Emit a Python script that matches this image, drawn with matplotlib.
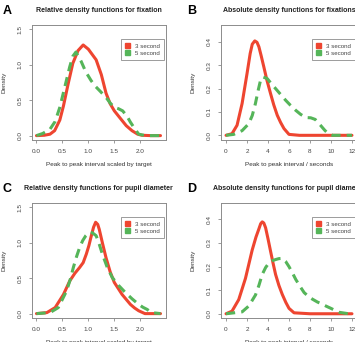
import matplotlib
matplotlib.use("Agg")
import matplotlib.pyplot as plt
from matplotlib.patches import Patch

plt.rcParams['font.family'] = ['Liberation Sans', 'DejaVu Sans']

RED = "#ee4530"
GREEN = "#55b559"
GRAY = "#8c8c8c"

# A - relative density, fixation
a_x3 = [0.0, 0.15, 0.26, 0.35, 0.45, 0.52, 0.61, 0.70, 0.80, 0.90, 1.00, 1.08, 1.15, 1.25, 1.34, 1.42, 1.50, 1.62, 1.73, 1.84, 1.95, 2.03, 2.2, 2.39]
a_y3 = [0.0, 0.005, 0.02, 0.07, 0.22, 0.42, 0.73, 1.02, 1.20, 1.28, 1.22, 1.14, 1.07, 0.86, 0.60, 0.45, 0.35, 0.24, 0.14, 0.07, 0.02, 0.005, 0.0, 0.0]
a_x5 = [0.0, 0.12, 0.26, 0.36, 0.45, 0.55, 0.64, 0.70, 0.76, 0.86, 0.95, 1.05, 1.13, 1.21, 1.34, 1.42, 1.50, 1.58, 1.66, 1.74, 1.81, 1.90, 1.97, 2.1, 2.39]
a_y5 = [0.0, 0.03, 0.09, 0.20, 0.40, 0.70, 0.97, 1.12, 1.18, 1.05, 0.90, 0.78, 0.70, 0.64, 0.54, 0.46, 0.40, 0.38, 0.35, 0.28, 0.19, 0.09, 0.02, 0.0, 0.0]

# B - absolute density, fixation
b_x3 = [0.0, 0.57, 1.05, 1.53, 2.0, 2.3, 2.5, 2.74, 2.95, 3.13, 3.35, 3.6, 3.9, 4.24, 4.55, 4.88, 5.2, 5.52, 6.0, 7.0, 9.0, 12.0]
b_y3 = [0.0, 0.007, 0.043, 0.136, 0.264, 0.35, 0.39, 0.404, 0.398, 0.379, 0.34, 0.293, 0.235, 0.179, 0.13, 0.086, 0.055, 0.029, 0.004, 0.0, 0.0, 0.0]
b_x5 = [0.0, 0.73, 1.53, 2.17, 2.5, 2.8, 3.05, 3.29, 3.5, 3.92, 4.3, 4.72, 5.2, 5.68, 6.15, 6.64, 7.1, 7.6, 8.07, 8.5, 9.0, 9.4, 9.67, 10.15, 11.0, 12.0]
b_y5 = [0.0, 0.004, 0.02, 0.05, 0.085, 0.136, 0.19, 0.236, 0.25, 0.243, 0.222, 0.2, 0.175, 0.15, 0.128, 0.107, 0.09, 0.076, 0.075, 0.068, 0.043, 0.022, 0.01, 0.0, 0.0, 0.0]

# C - relative density, pupil diameter
c_x3 = [0.0, 0.2, 0.36, 0.52, 0.64, 0.74, 0.83, 0.90, 0.96, 1.01, 1.05, 1.10, 1.14, 1.18, 1.21, 1.27, 1.34, 1.42, 1.50, 1.58, 1.65, 1.73, 1.81, 1.89, 1.97, 2.09, 2.39]
c_y3 = [0.0, 0.014, 0.085, 0.27, 0.46, 0.57, 0.65, 0.72, 0.84, 0.96, 1.08, 1.22, 1.29, 1.26, 1.19, 1.0, 0.79, 0.59, 0.44, 0.35, 0.27, 0.20, 0.13, 0.08, 0.04, 0.0, 0.0]
c_x5 = [0.0, 0.26, 0.42, 0.58, 0.65, 0.71, 0.77, 0.83, 0.89, 0.95, 1.02, 1.08, 1.15, 1.21, 1.27, 1.36, 1.46, 1.58, 1.71, 1.84, 1.97, 2.05, 2.13, 2.22, 2.39]
c_y5 = [0.0, 0.014, 0.085, 0.32, 0.48, 0.65, 0.80, 0.93, 1.03, 1.10, 1.15, 1.14, 1.10, 0.98, 0.84, 0.66, 0.51, 0.40, 0.30, 0.21, 0.13, 0.09, 0.06, 0.014, 0.0]

# D - absolute density, pupil diameter
d_x3 = [0.0, 0.57, 1.21, 1.85, 2.49, 2.85, 3.13, 3.3, 3.45, 3.6, 3.77, 4.0, 4.24, 4.48, 4.72, 5.04, 5.36, 5.7, 6.0, 6.48, 8.0, 10.0, 12.0]
d_y3 = [0.0, 0.011, 0.06, 0.15, 0.27, 0.325, 0.36, 0.382, 0.39, 0.385, 0.365, 0.318, 0.266, 0.215, 0.167, 0.12, 0.082, 0.048, 0.023, 0.004, 0.0, 0.0, 0.0]
d_x5 = [0.0, 1.53, 2.17, 2.81, 3.13, 3.45, 3.77, 4.09, 4.4, 4.72, 5.04, 5.36, 5.68, 6.0, 6.32, 6.64, 7.04, 7.44, 7.84, 8.23, 8.7, 9.19, 9.6, 9.99, 10.4, 10.8, 11.7, 12.0]
d_y5 = [0.0, 0.008, 0.033, 0.08, 0.12, 0.167, 0.196, 0.216, 0.225, 0.23, 0.234, 0.235, 0.222, 0.2, 0.174, 0.146, 0.117, 0.09, 0.074, 0.062, 0.05, 0.04, 0.031, 0.023, 0.014, 0.006, 0.0, 0.0]

rel_ticks = [0.0, 0.5, 1.0, 1.5, 2.0]
rel_yticks = [0.0, 0.5, 1.0, 1.5]
abs_ticks = [0, 2, 4, 6, 8, 10, 12]
abs_yticks = [0.0, 0.1, 0.2, 0.3, 0.4]

fig = plt.figure(figsize=(3.55, 3.42), dpi=100)

W, H = 355.0, 342.0


def make_ax(left, top, right, bottom):
    return fig.add_axes([left / W, 1 - bottom / H, (right - left) / W, (bottom - top) / H])


panels = [
    (make_ax(31.5, 25, 166, 140), "A", "Relative density functions for fixation",
     "Peak to peak interval scaled by target", a_x3, a_y3, a_x5, a_y5,
     (-0.096, 2.496), (-0.062, 1.562), rel_ticks, rel_yticks, "%.1f", "%.1f"),
    (make_ax(221, 25, 357, 140), "B", "Absolute density functions for fixations",
     "Peak to peak interval / seconds", b_x3, b_y3, b_x5, b_y5,
     (-0.48, 12.48), (-0.02, 0.472), abs_ticks, abs_yticks, "%d", "%.1f"),
    (make_ax(31.5, 203, 166, 318), "C", "Relative density functions for pupil diameter",
     "Peak to peak interval scaled by target", c_x3, c_y3, c_x5, c_y5,
     (-0.096, 2.496), (-0.062, 1.562), rel_ticks, rel_yticks, "%.1f", "%.1f"),
    (make_ax(221, 203, 357, 318), "D", "Absolute density functions for pupil diameter",
     "Peak to peak interval / seconds", d_x3, d_y3, d_x5, d_y5,
     (-0.48, 12.48), (-0.018, 0.47), abs_ticks, abs_yticks, "%d", "%.1f"),
]

for ax, letter, title, xlabel, x3, y3, x5, y5, xlim, ylim, xt, yt, xf, yf in panels:
    ax.plot(x3, y3, color=RED, lw=2.2, solid_capstyle="round", solid_joinstyle="round", zorder=2)
    ax.plot(x5, y5, color=GREEN, lw=2.2, dashes=(3.0, 2.0), zorder=3)
    ax.set_xlim(*xlim)
    ax.set_ylim(*ylim)
    ax.set_xticks(xt)
    ax.set_xticklabels([xf % v for v in xt])
    ax.set_yticks(yt)
    ax.set_yticklabels([yf % v for v in yt], rotation=90, va="center")
    ax.tick_params(length=2.5, width=0.6, color=GRAY, labelsize=4.6, labelcolor="#444444", pad=4)
    for s in ax.spines.values():
        s.set_color(GRAY)
        s.set_linewidth(0.7)
    ax.set_title(title, fontsize=5.0, fontweight="bold", pad=9, color="#222222")
    ax.set_xlabel(xlabel, fontsize=4.6, color="#333333", labelpad=6)
    ax.set_ylabel("Density", fontsize=4.6, color="#333333", labelpad=8)
    handles = [Patch(facecolor=RED, edgecolor=RED, label="3 second"),
               Patch(facecolor=GREEN, edgecolor=GREEN, label="5 second")]
    leg = ax.legend(handles=handles, loc="upper right", bbox_to_anchor=(0.985, 0.88),
                    fontsize=4.4, frameon=True, fancybox=False, framealpha=1,
                    handlelength=0.8, handleheight=0.8, handletextpad=0.8,
                    borderpad=0.7, labelspacing=0.3, borderaxespad=0)
    leg.get_frame().set_edgecolor(GRAY)
    leg.get_frame().set_linewidth(0.6)
    for t in leg.get_texts():
        t.set_color("#444444")
    pos = ax.get_position()
    fig.text(pos.x0 - (29 if letter in "AC" else 34) / W, pos.y1 + 14 / H, letter,
             fontsize=9, fontweight="bold", ha="left", va="center")

fig.savefig("out.png", dpi=100)
